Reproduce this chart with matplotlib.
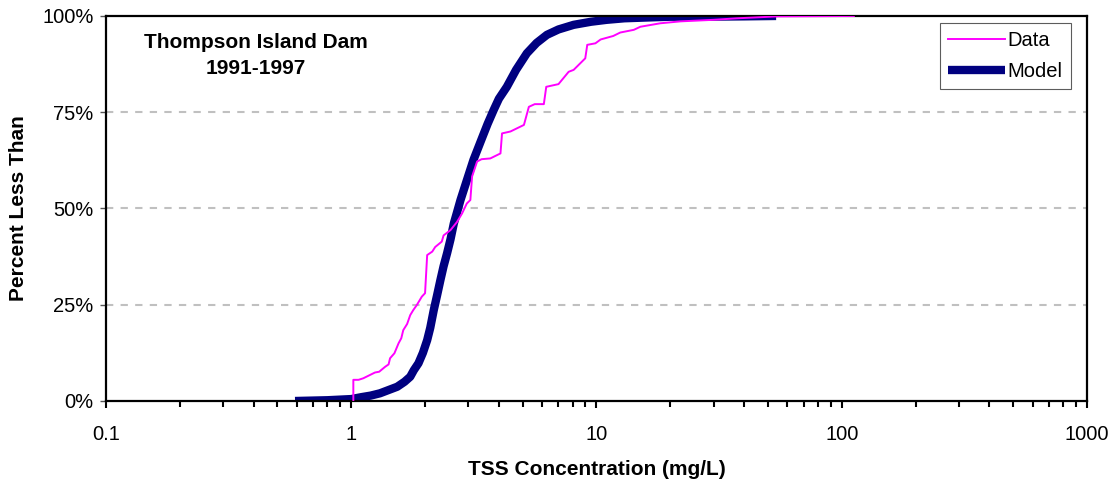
import matplotlib
matplotlib.use("Agg")
import matplotlib.pyplot as plt
from matplotlib.ticker import FixedLocator, FuncFormatter, NullFormatter

plt.rcParams['font.family'] = ['Liberation Sans', 'DejaVu Sans']

# Data (empirical distribution): TSS concentration (mg/L) vs fraction less than
data_x = [1.02, 1.02, 1.071, 1.12, 1.25, 1.30, 1.376, 1.42, 1.44, 1.50, 1.56, 1.60, 1.63,
          1.69, 1.74, 1.79, 1.85, 1.94, 2.0, 2.04, 2.14, 2.20, 2.34, 2.38, 2.54, 2.70,
          2.83, 2.96, 3.06, 3.11, 3.26, 3.40, 3.69, 4.06, 4.12, 4.46, 5.06, 5.30, 5.60,
          6.10, 6.24, 7.0, 7.7, 8.07, 9.0, 9.17, 9.9, 10.4, 11.7, 12.5, 14.2, 15.1,
          18.2, 22.0, 30.0, 37.5, 55.0, 112.0]
data_p = [0.0, 0.055, 0.055, 0.059, 0.074, 0.076, 0.089, 0.095, 0.111, 0.124, 0.150, 0.163,
          0.184, 0.200, 0.223, 0.236, 0.249, 0.271, 0.280, 0.379, 0.388, 0.400, 0.414,
          0.430, 0.444, 0.465, 0.487, 0.513, 0.522, 0.583, 0.622, 0.628, 0.630, 0.643,
          0.695, 0.700, 0.717, 0.764, 0.771, 0.771, 0.816, 0.823, 0.855, 0.860, 0.890,
          0.925, 0.929, 0.939, 0.948, 0.957, 0.964, 0.972, 0.981, 0.986, 0.990, 0.994,
          0.999, 1.0]

# Model distribution
model_x = [0.59, 0.80, 1.0, 1.10, 1.20, 1.31, 1.40, 1.54, 1.65, 1.74, 1.80, 1.88, 1.96,
           2.04, 2.10, 2.17, 2.24, 2.31, 2.38, 2.46, 2.54, 2.62, 2.70, 2.79, 2.95, 3.15,
           3.40, 3.60, 3.81, 4.00, 4.31, 4.70, 5.20, 5.70, 6.28, 7.00, 8.07, 9.50, 11.0,
           13.0, 16.0, 20.0, 25.0, 40.0, 54.0]
model_p = [0.0, 0.002, 0.005, 0.010, 0.014, 0.020, 0.027, 0.037, 0.050, 0.063, 0.080,
           0.098, 0.125, 0.158, 0.190, 0.236, 0.275, 0.314, 0.350, 0.384, 0.420, 0.461,
           0.490, 0.522, 0.570, 0.626, 0.680, 0.720, 0.756, 0.785, 0.816, 0.860, 0.903,
           0.930, 0.951, 0.965, 0.977, 0.985, 0.990, 0.994, 0.996, 0.998, 0.998, 0.999, 1.0]

x_ticks = [0.1, 1, 10, 100, 1000]
x_tick_labels = ['0.1', '1', '10', '100', '1000']
y_ticks = [0.0, 0.25, 0.5, 0.75, 1.0]
y_tick_labels = ['0%', '25%', '50%', '75%', '100%']

fig = plt.figure(figsize=(11.19, 4.84), dpi=100)
ax = fig.add_axes([0.0947, 0.1715, 0.8767, 0.7955])

for yv in [0.25, 0.5, 0.75]:
    ax.axhline(yv, color='#c0c0c0', lw=1.5, ls=(0, (3.5, 3.5)), zorder=1)

ax.plot(data_x, data_p, color='#ff00ff', lw=1.4, label='Data', zorder=3)
ax.plot(model_x, model_p, color='#000080', lw=6, label='Model', zorder=2,
        solid_capstyle='butt', solid_joinstyle='round')

ax.set_xscale('log')
ax.set_xlim(0.1, 1000)
ax.set_ylim(0, 1)
ax.xaxis.set_major_locator(FixedLocator(x_ticks))
ax.xaxis.set_major_formatter(FuncFormatter(lambda v, p: x_tick_labels[x_ticks.index(v)] if v in x_ticks else ''))
minor = [m * 10.0 ** e for e in range(-1, 3) for m in range(2, 10)]
ax.xaxis.set_minor_locator(FixedLocator(minor))
ax.xaxis.set_minor_formatter(NullFormatter())
ax.set_yticks(y_ticks)
ax.set_yticklabels(y_tick_labels)

ax.tick_params(axis='x', which='major', direction='out', length=5, width=1.5, labelsize=14.5, pad=12)
ax.tick_params(axis='x', which='minor', direction='out', length=4, width=1.5)
ax.tick_params(axis='y', direction='out', length=4, width=1, color='#555555', labelsize=14.5, pad=5)

for s in ax.spines.values():
    s.set_color('black')
    s.set_linewidth(1.6)

ax.set_xlabel('TSS Concentration (mg/L)', fontsize=15, fontweight='bold', labelpad=12)
ax.set_ylabel('Percent Less Than', fontsize=15, fontweight='bold', labelpad=10)

ax.text(0.153, 0.955, 'Thompson Island Dam\n1991-1997', transform=ax.transAxes,
        ha='center', va='top', fontsize=15, fontweight='bold', linespacing=1.45)

leg = ax.legend(loc='upper right', bbox_to_anchor=(0.9835, 0.982), fontsize=14.5, frameon=True,
                fancybox=False, edgecolor='#333333', handlelength=2.8, handletextpad=0.15,
                borderpad=0.4, labelspacing=0.6, borderaxespad=0)
leg.get_frame().set_linewidth(0.8)

fig.savefig('out.png', dpi=100)
